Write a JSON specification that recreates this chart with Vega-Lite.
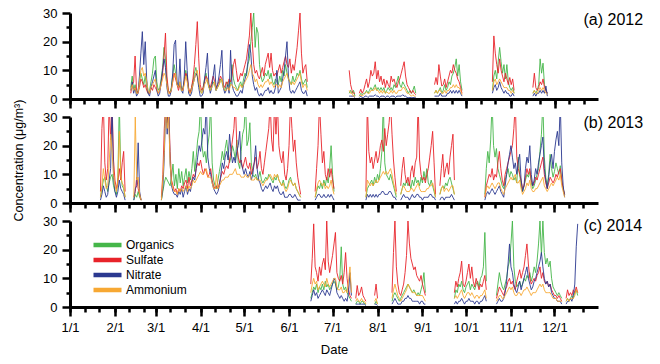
{
"$schema": "https://vega.github.io/schema/vega-lite/v6.json",
"padding": {"left": 12, "top": 7, "right": 4, "bottom": 2},
"spacing": 18,
"bounds": "flush",
"config": {"font": "Liberation Sans", "view": {"stroke": null},
 "axis": {"grid": false, "domainColor": "#000", "tickColor": "#000", "labelColor": "#000", "titleColor": "#000", "domainWidth": 3, "tickWidth": 2.5, "labelFontSize": 13, "titleFontWeight": "normal", "labelFont": "Liberation Sans", "titleFont": "Liberation Sans"},
 "legend": {"labelFont": "Liberation Sans"}},
"datasets": {
"y2012": [
{"t":"2012-02-12","o":4,"s":2,"n":3,"a":3},{"t":"2012-02-13","o":8,"s":5,"n":6,"a":5},{"t":"2012-02-14","o":3,"s":6,"n":2,"a":3},{"t":"2012-02-15","o":5,"s":15,"n":4,"a":4},{"t":"2012-02-16","o":2,"s":3,"n":1,"a":2},{"t":"2012-02-17","o":3,"s":2,"n":2,"a":2},{"t":"2012-02-18","o":6,"s":4,"n":8,"a":6},{"t":"2012-02-19","o":9,"s":7,"n":16,"a":10},{"t":"2012-02-20","o":7,"s":6,"n":23.5,"a":11},{"t":"2012-02-21","o":5,"s":4,"n":12,"a":8},{"t":"2012-02-22","o":8,"s":5,"n":20,"a":9},{"t":"2012-02-23","o":4,"s":3,"n":7,"a":6},{"t":"2012-02-24","o":2,"s":2,"n":2,"a":3},{"t":"2012-02-25","o":3,"s":2,"n":1,"a":2},{"t":"2012-02-26","o":6,"s":4,"n":4,"a":4},{"t":"2012-02-27","o":9,"s":3,"n":6,"a":5},{"t":"2012-02-28","o":14,"s":5,"n":8,"a":6},{"t":"2012-02-29","o":15,"s":4,"n":10,"a":7},
{"t":"2012-03-01","o":6,"s":3,"n":3,"a":4},{"t":"2012-03-02","o":3,"s":2,"n":1,"a":2},{"t":"2012-03-03","o":4,"s":3,"n":2,"a":3},{"t":"2012-03-04","o":7,"s":5,"n":6,"a":5},{"t":"2012-03-05","o":11,"s":9,"n":10,"a":7},{"t":"2012-03-06","o":18,"s":15,"n":14,"a":9},{"t":"2012-03-07","o":14,"s":23,"n":11,"a":8},{"t":"2012-03-08","o":6,"s":8,"n":4,"a":5},{"t":"2012-03-09","o":3,"s":3,"n":1,"a":2},{"t":"2012-03-10","o":2,"s":2,"n":1,"a":2},{"t":"2012-03-11","o":4,"s":3,"n":3,"a":3},{"t":"2012-03-12","o":8,"s":6,"n":9,"a":6},{"t":"2012-03-13","o":12,"s":9,"n":19,"a":8},{"t":"2012-03-14","o":9,"s":7,"n":20.5,"a":9},{"t":"2012-03-15","o":5,"s":5,"n":6,"a":5},{"t":"2012-03-16","o":4,"s":3,"n":4,"a":4},{"t":"2012-03-17","o":6,"s":5,"n":14,"a":6},{"t":"2012-03-18","o":3,"s":4,"n":3,"a":3},{"t":"2012-03-19","o":4,"s":3,"n":2,"a":3},{"t":"2012-03-20","o":6,"s":6,"n":8,"a":5},{"t":"2012-03-21","o":10,"s":9,"n":20,"a":8},{"t":"2012-03-22","o":7,"s":8,"n":10,"a":6},{"t":"2012-03-23","o":3,"s":4,"n":2,"a":3},{"t":"2012-03-24","o":2,"s":2,"n":1,"a":2},{"t":"2012-03-25","o":4,"s":4,"n":2,"a":3},{"t":"2012-03-26","o":6,"s":7,"n":5,"a":5},{"t":"2012-03-27","o":9,"s":12,"n":7,"a":7},{"t":"2012-03-28","o":11,"s":19,"n":9,"a":9},{"t":"2012-03-29","o":8,"s":27,"n":8,"a":10},{"t":"2012-03-30","o":5,"s":14,"n":4,"a":6},{"t":"2012-03-31","o":3,"s":5,"n":1,"a":3},
{"t":"2012-04-01","o":2,"s":3,"n":1,"a":2},{"t":"2012-04-02","o":4,"s":4,"n":2,"a":3},{"t":"2012-04-03","o":7,"s":6,"n":7,"a":5},{"t":"2012-04-04","o":9,"s":8,"n":11,"a":6},{"t":"2012-04-05","o":6,"s":7,"n":16,"a":7},{"t":"2012-04-06","o":4,"s":5,"n":5,"a":4},{"t":"2012-04-07","o":3,"s":4,"n":2,"a":3},{"t":"2012-04-08","o":5,"s":6,"n":4,"a":4},{"t":"2012-04-09","o":6,"s":8,"n":8,"a":5},{"t":"2012-04-10","o":5,"s":6,"n":12,"a":6},{"t":"2012-04-11","o":3,"s":4,"n":3,"a":3},{"t":"2012-04-12","o":4,"s":5,"n":5,"a":4},{"t":"2012-04-13","o":5,"s":6,"n":8,"a":5},{"t":"2012-04-14","o":7,"s":8,"n":12,"a":6},{"t":"2012-04-15","o":6,"s":7,"n":17,"a":7},{"t":"2012-04-16","o":4,"s":5,"n":4,"a":4},{"t":"2012-04-17","o":3,"s":4,"n":2,"a":3},{"t":"2012-04-18","o":5,"s":6,"n":3,"a":3},{"t":"2012-04-19","o":6,"s":5,"n":5,"a":4},{"t":"2012-04-20","o":4,"s":7,"n":2,"a":3},{"t":"2012-04-21","o":5,"s":6,"n":17,"a":5},{"t":"2012-04-22","o":12,"s":8,"n":5,"a":5},{"t":"2012-04-23","o":7,"s":12,"n":3,"a":4},{"t":"2012-04-24","o":5,"s":14,"n":2,"a":4},{"t":"2012-04-25","o":4,"s":10,"n":1,"a":3},{"t":"2012-04-26","o":3,"s":6,"n":1,"a":3},{"t":"2012-04-27","o":5,"s":7,"n":2,"a":4},{"t":"2012-04-28","o":6,"s":9,"n":3,"a":5},{"t":"2012-04-29","o":4,"s":8,"n":2,"a":4},{"t":"2012-04-30","o":7,"s":10,"n":5,"a":5},
{"t":"2012-05-01","o":9,"s":12,"n":7,"a":6},{"t":"2012-05-02","o":8,"s":14,"n":9,"a":7},{"t":"2012-05-03","o":12,"s":18,"n":13,"a":8},{"t":"2012-05-04","o":14,"s":22,"n":19,"a":10},{"t":"2012-05-05","o":20,"s":30,"n":16,"a":12},{"t":"2012-05-06","o":25,"s":20,"n":8,"a":9},{"t":"2012-05-07","o":30,"s":12,"n":5,"a":8},{"t":"2012-05-08","o":18,"s":9,"n":3,"a":6},{"t":"2012-05-09","o":25,"s":10,"n":4,"a":7},{"t":"2012-05-10","o":23,"s":8,"n":2,"a":5},{"t":"2012-05-11","o":12,"s":7,"n":1,"a":4},{"t":"2012-05-12","o":8,"s":9,"n":2,"a":5},{"t":"2012-05-13","o":6,"s":11,"n":1,"a":4},{"t":"2012-05-14","o":7,"s":8,"n":2,"a":5},{"t":"2012-05-15","o":9,"s":12,"n":3,"a":6},{"t":"2012-05-16","o":8,"s":14,"n":3,"a":6},{"t":"2012-05-17","o":10,"s":16,"n":4,"a":7},{"t":"2012-05-18","o":7,"s":11,"n":2,"a":5},{"t":"2012-05-19","o":9,"s":16,"n":3,"a":6},{"t":"2012-05-20","o":6,"s":10,"n":2,"a":5},{"t":"2012-05-21","o":5,"s":8,"n":2,"a":4},{"t":"2012-05-22","o":7,"s":9,"n":4,"a":5},{"t":"2012-05-23","o":6,"s":8,"n":10,"a":5},{"t":"2012-05-24","o":5,"s":10,"n":2,"a":4},{"t":"2012-05-25","o":8,"s":12,"n":3,"a":5},{"t":"2012-05-26","o":6,"s":9,"n":4,"a":4},{"t":"2012-05-27","o":10,"s":11,"n":7,"a":6},{"t":"2012-05-28","o":8,"s":13,"n":10,"a":7},{"t":"2012-05-29","o":12,"s":15,"n":15,"a":8},{"t":"2012-05-30","o":9,"s":12,"n":20,"a":9},{"t":"2012-05-31","o":7,"s":11,"n":8,"a":7},
{"t":"2012-06-01","o":6,"s":14,"n":3,"a":6},{"t":"2012-06-02","o":5,"s":9,"n":2,"a":5},{"t":"2012-06-03","o":8,"s":12,"n":3,"a":6},{"t":"2012-06-04","o":6,"s":10,"n":2,"a":5},{"t":"2012-06-05","o":7,"s":14,"n":3,"a":6},{"t":"2012-06-06","o":9,"s":18,"n":4,"a":7},{"t":"2012-06-07","o":8,"s":24,"n":5,"a":8},{"t":"2012-06-08","o":10,"s":30,"n":6,"a":9},{"t":"2012-06-09","o":7,"s":16,"n":3,"a":6},{"t":"2012-06-10","o":5,"s":9,"n":2,"a":4},{"t":"2012-06-11","o":6,"s":11,"n":2,"a":5},{"t":"2012-06-12","o":7,"s":12,"n":3,"a":5},{"t":"2012-06-13","o":4,"s":6,"n":1,"a":3},
{"t":"2012-06-14","o":null,"s":null,"n":null,"a":null},
{"t":"2012-07-12","o":2,"s":10,"n":1,"a":3},{"t":"2012-07-13","o":3,"s":5,"n":1,"a":2},{"t":"2012-07-14","o":2,"s":3,"n":1,"a":2},{"t":"2012-07-15","o":3,"s":2,"n":1,"a":1},{"t":"2012-07-16","o":1,"s":2,"n":0.5,"a":1},
{"t":"2012-07-17","o":null,"s":null,"n":null,"a":null},
{"t":"2012-07-19","o":1,"s":2,"n":0.5,"a":1},{"t":"2012-07-20","o":2,"s":3.4,"n":1,"a":1.5},{"t":"2012-07-21","o":1.5,"s":2,"n":0.5,"a":1},{"t":"2012-07-22","o":2,"s":3,"n":0.5,"a":1.5},{"t":"2012-07-23","o":2,"s":5,"n":1,"a":2},{"t":"2012-07-24","o":3,"s":7,"n":1,"a":2.5},{"t":"2012-07-25","o":2,"s":4,"n":0.5,"a":2},{"t":"2012-07-26","o":3,"s":6,"n":1,"a":2},{"t":"2012-07-27","o":4,"s":10,"n":1,"a":3},{"t":"2012-07-28","o":3,"s":8,"n":1,"a":3},{"t":"2012-07-29","o":4,"s":9,"n":1,"a":3},{"t":"2012-07-30","o":5,"s":13,"n":1.5,"a":4},{"t":"2012-07-31","o":3,"s":7,"n":1,"a":3},
{"t":"2012-08-01","o":4,"s":10,"n":1,"a":3},{"t":"2012-08-02","o":3,"s":6,"n":0.5,"a":2},{"t":"2012-08-03","o":4,"s":8,"n":1,"a":3},{"t":"2012-08-04","o":3,"s":5,"n":1,"a":2},{"t":"2012-08-05","o":4,"s":7,"n":1,"a":3},{"t":"2012-08-06","o":2,"s":4,"n":0.5,"a":2},{"t":"2012-08-07","o":3,"s":6.5,"n":1,"a":2.5},{"t":"2012-08-08","o":4,"s":5,"n":1,"a":2},{"t":"2012-08-09","o":3,"s":4,"n":0.5,"a":2},{"t":"2012-08-10","o":4,"s":8,"n":1,"a":3},{"t":"2012-08-11","o":3,"s":6,"n":1,"a":2},{"t":"2012-08-12","o":5,"s":7,"n":1,"a":3},{"t":"2012-08-13","o":4,"s":5,"n":0.5,"a":2},{"t":"2012-08-14","o":6,"s":4,"n":1,"a":2},{"t":"2012-08-15","o":8,"s":6,"n":1,"a":3},{"t":"2012-08-16","o":5,"s":7,"n":1,"a":3},{"t":"2012-08-17","o":4,"s":9,"n":1,"a":3},{"t":"2012-08-18","o":6,"s":11,"n":1.5,"a":4},{"t":"2012-08-19","o":5,"s":13,"n":1,"a":4},{"t":"2012-08-20","o":4,"s":8,"n":1,"a":3},{"t":"2012-08-21","o":3,"s":5,"n":0.5,"a":2},{"t":"2012-08-22","o":2,"s":4,"n":0.5,"a":2},{"t":"2012-08-23","o":3,"s":3,"n":0.5,"a":1.5},{"t":"2012-08-24","o":2,"s":2,"n":0.5,"a":1},{"t":"2012-08-25","o":3,"s":3,"n":0.5,"a":1.5},{"t":"2012-08-26","o":4.5,"s":2,"n":0.5,"a":1},{"t":"2012-08-27","o":2,"s":1.5,"n":0.5,"a":1},
{"t":"2012-08-29","o":null,"s":null,"n":null,"a":null},
{"t":"2012-09-09","o":2,"s":5,"n":1,"a":2},{"t":"2012-09-10","o":3,"s":7.5,"n":1,"a":3},{"t":"2012-09-11","o":2,"s":5,"n":1,"a":2},{"t":"2012-09-12","o":3,"s":12,"n":1,"a":3},{"t":"2012-09-13","o":4,"s":8,"n":2,"a":3},{"t":"2012-09-14","o":2,"s":4.5,"n":1,"a":2},{"t":"2012-09-15","o":3,"s":5,"n":1,"a":2},{"t":"2012-09-16","o":5,"s":7,"n":1,"a":3},{"t":"2012-09-17","o":3,"s":4,"n":1,"a":2},{"t":"2012-09-18","o":4,"s":6,"n":2,"a":3},{"t":"2012-09-19","o":6,"s":8,"n":2,"a":3},{"t":"2012-09-20","o":5,"s":10,"n":3,"a":4},{"t":"2012-09-21","o":8,"s":9,"n":2,"a":4},{"t":"2012-09-22","o":9,"s":12,"n":3,"a":5},{"t":"2012-09-23","o":11,"s":10,"n":2,"a":4},{"t":"2012-09-24","o":14,"s":9,"n":3,"a":5},{"t":"2012-09-25","o":8,"s":7,"n":2,"a":4},{"t":"2012-09-26","o":12,"s":6,"n":3,"a":4},{"t":"2012-09-27","o":6,"s":4,"n":2,"a":3},{"t":"2012-09-28","o":3,"s":2,"n":1,"a":1.5},
{"t":"2012-09-30","o":null,"s":null,"n":null,"a":null},
{"t":"2012-10-19","o":3,"s":6,"n":2,"a":3},{"t":"2012-10-20","o":8,"s":22,"n":4,"a":6},{"t":"2012-10-21","o":10,"s":16,"n":5,"a":7},{"t":"2012-10-22","o":7,"s":12,"n":3,"a":5},{"t":"2012-10-23","o":13,"s":9,"n":4,"a":6},{"t":"2012-10-24","o":18,"s":14,"n":6,"a":7},{"t":"2012-10-25","o":13,"s":10,"n":4,"a":6},{"t":"2012-10-26","o":9,"s":8,"n":3,"a":5},{"t":"2012-10-27","o":12,"s":6,"n":2,"a":4},{"t":"2012-10-28","o":7,"s":9,"n":3,"a":4},{"t":"2012-10-29","o":12,"s":7,"n":2,"a":4},{"t":"2012-10-30","o":6,"s":5,"n":2,"a":3},{"t":"2012-10-31","o":4,"s":7.5,"n":1,"a":3},{"t":"2012-11-01","o":3,"s":5,"n":1,"a":2},{"t":"2012-11-02","o":4,"s":7,"n":2,"a":3},{"t":"2012-11-03","o":2,"s":3,"n":1,"a":2},
{"t":"2012-11-05","o":null,"s":null,"n":null,"a":null},
{"t":"2012-11-16","o":2,"s":4,"n":1,"a":2},{"t":"2012-11-17","o":3,"s":9,"n":2,"a":3},{"t":"2012-11-18","o":2,"s":4,"n":1,"a":2},{"t":"2012-11-19","o":3,"s":3,"n":2,"a":2},{"t":"2012-11-20","o":5,"s":4,"n":2,"a":3},{"t":"2012-11-21","o":14,"s":6,"n":3,"a":4},{"t":"2012-11-22","o":9,"s":5,"n":2,"a":3},{"t":"2012-11-23","o":12.5,"s":7,"n":3,"a":4},{"t":"2012-11-24","o":5,"s":4,"n":2,"a":3},{"t":"2012-11-25","o":3,"s":3,"n":4.5,"a":2},{"t":"2012-11-26","o":2,"s":2,"n":1,"a":1.5}
],
"y2013": [
{"t":"2013-01-22","o":2,"s":4,"n":1,"a":2},{"t":"2013-01-23","o":5,"s":26,"n":3,"a":6},{"t":"2013-01-24","o":8,"s":35,"n":6,"a":12},{"t":"2013-01-25","o":9,"s":14,"n":4,"a":8},{"t":"2013-01-26","o":6,"s":8,"n":2,"a":5},{"t":"2013-01-27","o":4,"s":12,"n":3,"a":6},{"t":"2013-01-28","o":7,"s":35,"n":8,"a":14},{"t":"2013-01-29","o":9,"s":22,"n":12,"a":24},{"t":"2013-01-30","o":10,"s":35,"n":35,"a":18},{"t":"2013-01-31","o":6,"s":15,"n":9,"a":10},{"t":"2013-02-01","o":4,"s":8,"n":4,"a":6},{"t":"2013-02-02","o":3,"s":5,"n":2,"a":4},{"t":"2013-02-03","o":9,"s":7,"n":4,"a":8},{"t":"2013-02-04","o":35,"s":12,"n":8,"a":25},{"t":"2013-02-05","o":10,"s":8,"n":5,"a":9},{"t":"2013-02-06","o":6,"s":14,"n":4,"a":7},{"t":"2013-02-07","o":5,"s":18,"n":3,"a":6},{"t":"2013-02-08","o":2,"s":4,"n":1,"a":2},
{"t":"2013-02-10","o":null,"s":null,"n":null,"a":null},
{"t":"2013-02-14","o":1,"s":2,"n":1,"a":2},{"t":"2013-02-15","o":3,"s":4,"n":5,"a":30},{"t":"2013-02-16","o":2,"s":9,"n":6,"a":8},{"t":"2013-02-17","o":4,"s":5,"n":21,"a":9},{"t":"2013-02-18","o":2,"s":3,"n":4,"a":3},{"t":"2013-02-19","o":1,"s":1,"n":1,"a":1},
{"t":"2013-02-21","o":null,"s":null,"n":null,"a":null},
{"t":"2013-03-05","o":1,"s":2,"n":1,"a":1},{"t":"2013-03-06","o":4,"s":10,"n":5,"a":8},{"t":"2013-03-07","o":7,"s":26,"n":16,"a":18},{"t":"2013-03-08","o":9,"s":35,"n":35,"a":35},{"t":"2013-03-09","o":8,"s":28,"n":24,"a":26},{"t":"2013-03-10","o":7,"s":35,"n":35,"a":30},{"t":"2013-03-11","o":6,"s":18,"n":14,"a":14},{"t":"2013-03-12","o":9,"s":8,"n":6,"a":7},{"t":"2013-03-13","o":13.6,"s":6,"n":4,"a":5},{"t":"2013-03-14","o":6,"s":4,"n":3,"a":4},{"t":"2013-03-15","o":10,"s":5,"n":3,"a":4},{"t":"2013-03-16","o":5,"s":3,"n":2,"a":3},{"t":"2013-03-17","o":12,"s":5,"n":4,"a":5},{"t":"2013-03-18","o":7,"s":4,"n":3,"a":4},{"t":"2013-03-19","o":11,"s":6,"n":5,"a":5},{"t":"2013-03-20","o":6,"s":5,"n":2,"a":4},{"t":"2013-03-21","o":9,"s":7,"n":4,"a":5},{"t":"2013-03-22","o":12,"s":8,"n":6,"a":6},{"t":"2013-03-23","o":7,"s":5,"n":3,"a":4},{"t":"2013-03-24","o":11,"s":9,"n":5,"a":6},{"t":"2013-03-25","o":8,"s":6,"n":4,"a":5},{"t":"2013-03-26","o":12,"s":8,"n":7,"a":6},{"t":"2013-03-27","o":18,"s":10,"n":9,"a":8},{"t":"2013-03-28","o":11,"s":9,"n":8,"a":7},{"t":"2013-03-29","o":16,"s":12,"n":12,"a":8},{"t":"2013-03-30","o":22,"s":14,"n":16,"a":9},{"t":"2013-03-31","o":25,"s":13,"n":20,"a":10},
{"t":"2013-04-01","o":35,"s":15,"n":18,"a":11},{"t":"2013-04-02","o":20,"s":12,"n":22,"a":10},{"t":"2013-04-03","o":16,"s":10,"n":26,"a":10},{"t":"2013-04-04","o":18,"s":12,"n":24,"a":11},{"t":"2013-04-05","o":14,"s":11,"n":35,"a":12},{"t":"2013-04-06","o":20,"s":9,"n":16,"a":9},{"t":"2013-04-07","o":24,"s":10,"n":12,"a":9},{"t":"2013-04-08","o":35,"s":12,"n":10,"a":9},{"t":"2013-04-09","o":14,"s":8,"n":7,"a":7},{"t":"2013-04-10","o":8,"s":6,"n":5,"a":5},{"t":"2013-04-11","o":6,"s":5,"n":4,"a":5},{"t":"2013-04-12","o":5,"s":6,"n":3,"a":10},{"t":"2013-04-13","o":8,"s":5,"n":4,"a":5},{"t":"2013-04-14","o":11,"s":7,"n":6,"a":6},{"t":"2013-04-15","o":14,"s":9,"n":10,"a":7},{"t":"2013-04-16","o":18,"s":11,"n":14,"a":8},{"t":"2013-04-17","o":15,"s":10,"n":12,"a":8},{"t":"2013-04-18","o":19,"s":12,"n":16,"a":9},{"t":"2013-04-19","o":22,"s":13,"n":18,"a":9},{"t":"2013-04-20","o":17,"s":12,"n":15,"a":9},{"t":"2013-04-21","o":14,"s":15,"n":24,"a":10},{"t":"2013-04-22","o":16,"s":18,"n":18,"a":10},{"t":"2013-04-23","o":20,"s":22,"n":14,"a":10},{"t":"2013-04-24","o":18,"s":26,"n":16,"a":11},{"t":"2013-04-25","o":15,"s":35,"n":14,"a":12},{"t":"2013-04-26","o":22,"s":20,"n":18,"a":10},{"t":"2013-04-27","o":14,"s":16,"n":20,"a":10},{"t":"2013-04-28","o":12,"s":14,"n":25,"a":10},{"t":"2013-04-29","o":18,"s":15,"n":14,"a":9},{"t":"2013-04-30","o":24,"s":12,"n":12,"a":9},
{"t":"2013-05-01","o":26,"s":14,"n":10,"a":9},{"t":"2013-05-02","o":35,"s":16,"n":12,"a":10},{"t":"2013-05-03","o":20,"s":13,"n":10,"a":9},{"t":"2013-05-04","o":22,"s":12,"n":9,"a":9},{"t":"2013-05-05","o":28,"s":14,"n":11,"a":10},{"t":"2013-05-06","o":14,"s":10,"n":8,"a":8},{"t":"2013-05-07","o":10,"s":12,"n":10,"a":8},{"t":"2013-05-08","o":9,"s":14,"n":14,"a":8},{"t":"2013-05-09","o":10,"s":16,"n":20,"a":9},{"t":"2013-05-10","o":8,"s":12,"n":12,"a":8},{"t":"2013-05-11","o":9,"s":14,"n":8,"a":8},{"t":"2013-05-12","o":11,"s":18,"n":7,"a":8},{"t":"2013-05-13","o":8,"s":12,"n":5,"a":7},{"t":"2013-05-14","o":7,"s":10,"n":4,"a":6},{"t":"2013-05-15","o":8,"s":14,"n":5,"a":7},{"t":"2013-05-16","o":9,"s":18,"n":6,"a":8},{"t":"2013-05-17","o":8,"s":22,"n":5,"a":8},{"t":"2013-05-18","o":10,"s":26,"n":6,"a":9},{"t":"2013-05-19","o":9,"s":35,"n":7,"a":10},{"t":"2013-05-20","o":8,"s":22,"n":5,"a":9},{"t":"2013-05-21","o":7,"s":18,"n":4,"a":8},{"t":"2013-05-22","o":9,"s":35,"n":6,"a":10},{"t":"2013-05-23","o":8,"s":24,"n":5,"a":9},{"t":"2013-05-24","o":10,"s":35,"n":6,"a":10},{"t":"2013-05-25","o":8,"s":20,"n":4,"a":8},{"t":"2013-05-26","o":7,"s":16,"n":3,"a":7},{"t":"2013-05-27","o":6,"s":14,"n":3,"a":6},{"t":"2013-05-28","o":8,"s":18,"n":4,"a":7},{"t":"2013-05-29","o":6,"s":10,"n":2,"a":5},{"t":"2013-05-30","o":5,"s":8,"n":2,"a":4},{"t":"2013-05-31","o":6,"s":12,"n":2,"a":5},
{"t":"2013-06-01","o":8,"s":20,"n":3,"a":7},{"t":"2013-06-02","o":9,"s":35,"n":3,"a":8},{"t":"2013-06-03","o":7,"s":26,"n":2,"a":7},{"t":"2013-06-04","o":6,"s":18,"n":2,"a":6},{"t":"2013-06-05","o":7,"s":22,"n":3,"a":7},{"t":"2013-06-06","o":5,"s":14,"n":2,"a":5},{"t":"2013-06-07","o":4,"s":9,"n":1,"a":4},{"t":"2013-06-08","o":3,"s":6,"n":1,"a":3},{"t":"2013-06-09","o":2,"s":3,"n":1,"a":2},
{"t":"2013-06-10","o":null,"s":null,"n":null,"a":null},
{"t":"2013-06-19","o":2,"s":4,"n":1,"a":2},{"t":"2013-06-20","o":4,"s":12,"n":2,"a":5},{"t":"2013-06-21","o":6,"s":20,"n":3,"a":7},{"t":"2013-06-22","o":5,"s":35,"n":3,"a":8},{"t":"2013-06-23","o":7,"s":24,"n":2,"a":7},{"t":"2013-06-24","o":5,"s":14,"n":2,"a":6},{"t":"2013-06-25","o":8,"s":18,"n":3,"a":7},{"t":"2013-06-26","o":6,"s":10,"n":2,"a":5},{"t":"2013-06-27","o":9,"s":8,"n":2,"a":6},{"t":"2013-06-28","o":7,"s":12,"n":3,"a":5},{"t":"2013-06-29","o":12,"s":9,"n":2,"a":6},{"t":"2013-06-30","o":20,"s":12,"n":3,"a":8},{"t":"2013-07-01","o":10,"s":8,"n":2,"a":5},{"t":"2013-07-02","o":4,"s":5,"n":1,"a":3},
{"t":"2013-07-04","o":null,"s":null,"n":null,"a":null},
{"t":"2013-07-24","o":2,"s":4,"n":1,"a":2},{"t":"2013-07-25","o":5,"s":35,"n":3,"a":8},{"t":"2013-07-26","o":6,"s":18,"n":2,"a":7},{"t":"2013-07-27","o":7,"s":14,"n":3,"a":6},{"t":"2013-07-28","o":8,"s":16,"n":2,"a":7},{"t":"2013-07-29","o":6,"s":12,"n":3,"a":6},{"t":"2013-07-30","o":9,"s":15,"n":2,"a":7},{"t":"2013-07-31","o":7,"s":18,"n":3,"a":8},{"t":"2013-08-01","o":10,"s":14,"n":2,"a":7},{"t":"2013-08-02","o":8,"s":16,"n":3,"a":8},{"t":"2013-08-03","o":12,"s":20,"n":3,"a":9},{"t":"2013-08-04","o":18,"s":22,"n":4,"a":10},{"t":"2013-08-05","o":35,"s":18,"n":4,"a":11},{"t":"2013-08-06","o":14,"s":26,"n":3,"a":10},{"t":"2013-08-07","o":10,"s":20,"n":3,"a":11},{"t":"2013-08-08","o":9,"s":24,"n":3,"a":10},{"t":"2013-08-09","o":8,"s":28,"n":4,"a":11},{"t":"2013-08-10","o":10,"s":35,"n":4,"a":12},{"t":"2013-08-11","o":8,"s":24,"n":3,"a":10},{"t":"2013-08-12","o":6,"s":15,"n":2,"a":7},{"t":"2013-08-13","o":4,"s":9,"n":2,"a":5},{"t":"2013-08-14","o":2,"s":4,"n":1,"a":3},
{"t":"2013-08-15","o":null,"s":null,"n":null,"a":null},
{"t":"2013-08-17","o":3,"s":6,"n":1,"a":3},{"t":"2013-08-18","o":5,"s":12,"n":2,"a":5},{"t":"2013-08-19","o":7,"s":16,"n":3,"a":6},{"t":"2013-08-20","o":6,"s":10,"n":2,"a":5},{"t":"2013-08-21","o":8,"s":7,"n":2,"a":4},{"t":"2013-08-22","o":6,"s":9,"n":2,"a":4},{"t":"2013-08-23","o":7,"s":6,"n":1,"a":4},{"t":"2013-08-24","o":5,"s":11,"n":2,"a":5},{"t":"2013-08-25","o":8,"s":13,"n":3,"a":5},{"t":"2013-08-26","o":6,"s":9,"n":2,"a":4},{"t":"2013-08-27","o":9,"s":14,"n":2,"a":5},{"t":"2013-08-28","o":7,"s":16,"n":3,"a":6},{"t":"2013-08-29","o":8,"s":35,"n":3,"a":7},{"t":"2013-08-30","o":6,"s":15,"n":2,"a":5},{"t":"2013-08-31","o":9,"s":10,"n":2,"a":4},{"t":"2013-09-01","o":7,"s":8,"n":1,"a":4},{"t":"2013-09-02","o":11,"s":9,"n":2,"a":4},{"t":"2013-09-03","o":8,"s":7,"n":2,"a":4},{"t":"2013-09-04","o":12,"s":10,"n":2,"a":5},{"t":"2013-09-05","o":7,"s":12,"n":2,"a":5},{"t":"2013-09-06","o":6,"s":16,"n":3,"a":6},{"t":"2013-09-07","o":8,"s":20,"n":3,"a":6},{"t":"2013-09-08","o":6,"s":25,"n":2,"a":7},{"t":"2013-09-09","o":4,"s":14,"n":2,"a":5},{"t":"2013-09-10","o":2,"s":3,"n":1,"a":2},
{"t":"2013-09-11","o":null,"s":null,"n":null,"a":null},
{"t":"2013-09-13","o":3,"s":6,"n":1,"a":3},{"t":"2013-09-14","o":5,"s":12,"n":2,"a":5},{"t":"2013-09-15","o":6,"s":17,"n":2,"a":6},{"t":"2013-09-16","o":5,"s":9,"n":1,"a":4},{"t":"2013-09-17","o":7,"s":12,"n":2,"a":5},{"t":"2013-09-18","o":6,"s":14,"n":2,"a":5},{"t":"2013-09-19","o":8,"s":10,"n":2,"a":4},{"t":"2013-09-20","o":9,"s":16,"n":2,"a":5},{"t":"2013-09-21","o":7,"s":20,"n":3,"a":6},{"t":"2013-09-22","o":5,"s":24,"n":2,"a":6},{"t":"2013-09-23","o":3,"s":8,"n":1,"a":3},
{"t":"2013-09-24","o":null,"s":null,"n":null,"a":null},
{"t":"2013-10-14","o":3,"s":2,"n":1,"a":2},{"t":"2013-10-15","o":12,"s":6,"n":3,"a":5},{"t":"2013-10-16","o":18,"s":8,"n":4,"a":6},{"t":"2013-10-17","o":14,"s":10,"n":3,"a":5},{"t":"2013-10-18","o":22,"s":9,"n":4,"a":6},{"t":"2013-10-19","o":35,"s":12,"n":5,"a":7},{"t":"2013-10-20","o":20,"s":8,"n":4,"a":6},{"t":"2013-10-21","o":16,"s":10,"n":3,"a":5},{"t":"2013-10-22","o":19,"s":9,"n":4,"a":6},{"t":"2013-10-23","o":12,"s":14,"n":5,"a":7},{"t":"2013-10-24","o":10,"s":18,"n":6,"a":7},{"t":"2013-10-25","o":8,"s":12,"n":4,"a":5},{"t":"2013-10-26","o":6,"s":8,"n":3,"a":4},{"t":"2013-10-27","o":5,"s":6,"n":2,"a":3},{"t":"2013-10-28","o":8,"s":10,"n":6,"a":5},{"t":"2013-10-29","o":10,"s":12,"n":10,"a":6},{"t":"2013-10-30","o":12,"s":14,"n":14,"a":7},{"t":"2013-10-31","o":9,"s":16,"n":17,"a":8},
{"t":"2013-11-01","o":11,"s":18,"n":20,"a":9},{"t":"2013-11-02","o":10,"s":20,"n":16,"a":8},{"t":"2013-11-03","o":8,"s":26,"n":12,"a":9},{"t":"2013-11-04","o":9,"s":35,"n":14,"a":10},{"t":"2013-11-05","o":7,"s":16,"n":10,"a":7},{"t":"2013-11-06","o":16,"s":12,"n":14,"a":7},{"t":"2013-11-07","o":10,"s":10,"n":17,"a":8},{"t":"2013-11-08","o":6,"s":8,"n":8,"a":5},{"t":"2013-11-09","o":4,"s":5,"n":4,"a":3},{"t":"2013-11-10","o":6,"s":6,"n":6,"a":4},{"t":"2013-11-11","o":8,"s":9,"n":12,"a":5},{"t":"2013-11-12","o":10,"s":12,"n":16,"a":7},{"t":"2013-11-13","o":9,"s":10,"n":14,"a":6},{"t":"2013-11-14","o":11,"s":12,"n":20,"a":8},{"t":"2013-11-15","o":7,"s":8,"n":10,"a":5},{"t":"2013-11-16","o":5,"s":6,"n":6,"a":4},{"t":"2013-11-17","o":6,"s":7,"n":8,"a":4},{"t":"2013-11-18","o":8,"s":9,"n":12,"a":5},{"t":"2013-11-19","o":10,"s":8,"n":10,"a":5},{"t":"2013-11-20","o":12,"s":10,"n":14,"a":6},{"t":"2013-11-21","o":18,"s":12,"n":17,"a":7},{"t":"2013-11-22","o":24,"s":14,"n":20,"a":8},{"t":"2013-11-23","o":35,"s":16,"n":23,"a":9},{"t":"2013-11-24","o":16,"s":10,"n":12,"a":6},{"t":"2013-11-25","o":9,"s":7,"n":8,"a":5},{"t":"2013-11-26","o":6,"s":5,"n":5,"a":4},{"t":"2013-11-27","o":10,"s":7,"n":9,"a":5},{"t":"2013-11-28","o":17,"s":9,"n":14,"a":6},{"t":"2013-11-29","o":12,"s":8,"n":17,"a":7},{"t":"2013-11-30","o":9,"s":7,"n":12,"a":6},
{"t":"2013-12-01","o":11,"s":8,"n":18,"a":7},{"t":"2013-12-02","o":14,"s":10,"n":22,"a":8},{"t":"2013-12-03","o":12,"s":9,"n":25,"a":9},{"t":"2013-12-04","o":10,"s":11,"n":20,"a":8},{"t":"2013-12-05","o":13,"s":12,"n":35,"a":10},{"t":"2013-12-06","o":8,"s":8,"n":14,"a":6},{"t":"2013-12-07","o":5,"s":5,"n":6,"a":4},{"t":"2013-12-08","o":3,"s":3,"n":2,"a":2}
],
"y2014": [
{"t":"2014-06-16","o":3,"s":8,"n":2,"a":5},{"t":"2014-06-17","o":5,"s":17,"n":4,"a":8},{"t":"2014-06-18","o":7,"s":29,"n":6,"a":10},{"t":"2014-06-19","o":6,"s":14,"n":4,"a":8},{"t":"2014-06-20","o":8,"s":12,"n":5,"a":9},{"t":"2014-06-21","o":5,"s":9,"n":3,"a":6},{"t":"2014-06-22","o":7,"s":14,"n":4,"a":7},{"t":"2014-06-23","o":6,"s":11,"n":5,"a":8},{"t":"2014-06-24","o":8,"s":15,"n":6,"a":9},{"t":"2014-06-25","o":6,"s":17,"n":5,"a":8},{"t":"2014-06-26","o":9,"s":13,"n":4,"a":7},{"t":"2014-06-27","o":7,"s":30,"n":6,"a":10},{"t":"2014-06-28","o":8,"s":16,"n":5,"a":8},{"t":"2014-06-29","o":6,"s":12,"n":4,"a":7},{"t":"2014-06-30","o":7,"s":15,"n":6,"a":8},{"t":"2014-07-01","o":8,"s":18,"n":8,"a":9},{"t":"2014-07-02","o":9,"s":22,"n":10,"a":10},{"t":"2014-07-03","o":8,"s":26,"n":9,"a":10},{"t":"2014-07-04","o":6,"s":12,"n":5,"a":7},{"t":"2014-07-05","o":7,"s":10,"n":4,"a":6},{"t":"2014-07-06","o":10,"s":9,"n":3,"a":6},{"t":"2014-07-07","o":21,"s":11,"n":4,"a":7},{"t":"2014-07-08","o":8,"s":8,"n":3,"a":5},{"t":"2014-07-09","o":6,"s":12,"n":2,"a":5},{"t":"2014-07-10","o":7,"s":19,"n":3,"a":6},{"t":"2014-07-11","o":5,"s":10,"n":2,"a":5},{"t":"2014-07-12","o":4,"s":6,"n":5,"a":9},{"t":"2014-07-13","o":3,"s":4,"n":12,"a":14},{"t":"2014-07-14","o":2,"s":3,"n":4,"a":5},
{"t":"2014-07-15","o":null,"s":null,"n":null,"a":null},
{"t":"2014-07-17","o":1,"s":3,"n":1,"a":2},{"t":"2014-07-18","o":2,"s":7.5,"n":1,"a":3},{"t":"2014-07-19","o":2,"s":4,"n":1,"a":2},{"t":"2014-07-20","o":1,"s":5,"n":1,"a":2},{"t":"2014-07-21","o":2,"s":7,"n":1,"a":3},{"t":"2014-07-22","o":2,"s":4,"n":1,"a":2},{"t":"2014-07-23","o":1,"s":3,"n":1,"a":2},{"t":"2014-07-24","o":1,"s":2,"n":0.5,"a":1},
{"t":"2014-07-25","o":null,"s":null,"n":null,"a":null},
{"t":"2014-07-30","o":1,"s":4,"n":1,"a":2},{"t":"2014-07-31","o":2,"s":8,"n":1,"a":3},{"t":"2014-08-01","o":1,"s":3,"n":0.5,"a":1},
{"t":"2014-08-02","o":null,"s":null,"n":null,"a":null},
{"t":"2014-08-11","o":2,"s":5,"n":1,"a":3},{"t":"2014-08-12","o":4,"s":19,"n":2,"a":6},{"t":"2014-08-13","o":5,"s":30,"n":3,"a":8},{"t":"2014-08-14","o":4,"s":14,"n":2,"a":6},{"t":"2014-08-15","o":3,"s":8,"n":1,"a":4},{"t":"2014-08-16","o":2,"s":5,"n":1,"a":3},{"t":"2014-08-17","o":3,"s":4,"n":1,"a":2},{"t":"2014-08-18","o":4,"s":6,"n":2,"a":3},{"t":"2014-08-19","o":5,"s":8,"n":2,"a":4},{"t":"2014-08-20","o":6,"s":12,"n":3,"a":5},{"t":"2014-08-21","o":7,"s":18,"n":3,"a":6},{"t":"2014-08-22","o":8,"s":30,"n":4,"a":8},{"t":"2014-08-23","o":7,"s":22,"n":3,"a":7},{"t":"2014-08-24","o":6,"s":17,"n":3,"a":6},{"t":"2014-08-25","o":5,"s":15,"n":2,"a":5},{"t":"2014-08-26","o":6,"s":13,"n":2,"a":5},{"t":"2014-08-27","o":5,"s":14,"n":2,"a":5},{"t":"2014-08-28","o":4,"s":11,"n":2,"a":4},{"t":"2014-08-29","o":5,"s":10,"n":2,"a":4},{"t":"2014-08-30","o":4,"s":9,"n":1,"a":4},{"t":"2014-08-31","o":6,"s":11,"n":2,"a":4},{"t":"2014-09-01","o":8,"s":8,"n":2,"a":4},{"t":"2014-09-02","o":12,"s":6,"n":1,"a":3},{"t":"2014-09-03","o":5,"s":4,"n":1,"a":2},
{"t":"2014-09-04","o":null,"s":null,"n":null,"a":null},
{"t":"2014-09-23","o":3,"s":5,"n":1,"a":3},{"t":"2014-09-24","o":6,"s":9,"n":2,"a":4},{"t":"2014-09-25","o":5,"s":7,"n":1,"a":3},{"t":"2014-09-26","o":8,"s":10,"n":2,"a":4},{"t":"2014-09-27","o":7,"s":12,"n":2,"a":5},{"t":"2014-09-28","o":9,"s":16,"n":3,"a":6},{"t":"2014-09-29","o":6,"s":8,"n":2,"a":4},{"t":"2014-09-30","o":5,"s":7,"n":1,"a":3},{"t":"2014-10-01","o":7,"s":9,"n":2,"a":4},{"t":"2014-10-02","o":8,"s":12,"n":2,"a":5},{"t":"2014-10-03","o":9,"s":15,"n":3,"a":5},{"t":"2014-10-04","o":6,"s":10,"n":2,"a":4},{"t":"2014-10-05","o":8,"s":14,"n":2,"a":5},{"t":"2014-10-06","o":7,"s":9,"n":2,"a":4},{"t":"2014-10-07","o":6,"s":7,"n":1,"a":3},{"t":"2014-10-08","o":8,"s":10,"n":2,"a":4},{"t":"2014-10-09","o":9,"s":8,"n":2,"a":4},{"t":"2014-10-10","o":7,"s":6,"n":1,"a":3},{"t":"2014-10-11","o":10,"s":8,"n":2,"a":4},{"t":"2014-10-12","o":11,"s":7,"n":2,"a":4},{"t":"2014-10-13","o":14,"s":9,"n":3,"a":5},{"t":"2014-10-14","o":26,"s":11,"n":4,"a":6},{"t":"2014-10-15","o":9,"s":6,"n":2,"a":3},
{"t":"2014-10-16","o":null,"s":null,"n":null,"a":null},
{"t":"2014-10-22","o":4,"s":3,"n":1,"a":2},{"t":"2014-10-23","o":8,"s":5,"n":2,"a":3},{"t":"2014-10-24","o":12,"s":7,"n":3,"a":4},{"t":"2014-10-25","o":9,"s":6,"n":2,"a":4},{"t":"2014-10-26","o":7,"s":5,"n":2,"a":3},{"t":"2014-10-27","o":6,"s":4,"n":3,"a":3},{"t":"2014-10-28","o":8,"s":6,"n":5,"a":4},{"t":"2014-10-29","o":10,"s":7,"n":9,"a":5},{"t":"2014-10-30","o":14,"s":9,"n":15,"a":6},{"t":"2014-10-31","o":16,"s":10,"n":22,"a":7},{"t":"2014-11-01","o":22,"s":8,"n":14,"a":6},{"t":"2014-11-02","o":30,"s":9,"n":12,"a":7},{"t":"2014-11-03","o":14,"s":7,"n":8,"a":5},{"t":"2014-11-04","o":9,"s":6,"n":6,"a":4},{"t":"2014-11-05","o":7,"s":9,"n":5,"a":4},{"t":"2014-11-06","o":8,"s":11,"n":7,"a":5},{"t":"2014-11-07","o":9,"s":13,"n":9,"a":5},{"t":"2014-11-08","o":7,"s":10,"n":6,"a":4},{"t":"2014-11-09","o":8,"s":12,"n":8,"a":5},{"t":"2014-11-10","o":10,"s":14,"n":10,"a":6},{"t":"2014-11-11","o":9,"s":18,"n":12,"a":6},{"t":"2014-11-12","o":11,"s":22,"n":14,"a":7},{"t":"2014-11-13","o":10,"s":15,"n":10,"a":6},{"t":"2014-11-14","o":12,"s":10,"n":8,"a":5},{"t":"2014-11-15","o":9,"s":8,"n":6,"a":4},{"t":"2014-11-16","o":11,"s":9,"n":7,"a":5},{"t":"2014-11-17","o":14,"s":10,"n":9,"a":5},{"t":"2014-11-18","o":12,"s":9,"n":10,"a":5},{"t":"2014-11-19","o":16,"s":11,"n":12,"a":6},{"t":"2014-11-20","o":22,"s":12,"n":14,"a":7},{"t":"2014-11-21","o":30,"s":14,"n":16,"a":8},{"t":"2014-11-22","o":18,"s":10,"n":19,"a":7},{"t":"2014-11-23","o":30,"s":12,"n":14,"a":8},{"t":"2014-11-24","o":19,"s":9,"n":10,"a":6},{"t":"2014-11-25","o":15,"s":8,"n":8,"a":5},{"t":"2014-11-26","o":17,"s":9,"n":9,"a":5},{"t":"2014-11-27","o":14,"s":7,"n":7,"a":5},{"t":"2014-11-28","o":16,"s":8,"n":8,"a":5},{"t":"2014-11-29","o":10,"s":6,"n":5,"a":4},{"t":"2014-11-30","o":7,"s":5,"n":4,"a":3},{"t":"2014-12-01","o":6,"s":4,"n":3,"a":3},{"t":"2014-12-02","o":5,"s":4,"n":3,"a":3},{"t":"2014-12-03","o":4,"s":3,"n":2,"a":2},{"t":"2014-12-04","o":5,"s":4,"n":2,"a":2},{"t":"2014-12-05","o":4,"s":3,"n":2,"a":2},{"t":"2014-12-06","o":3,"s":2,"n":1,"a":2},
{"t":"2014-12-07","o":null,"s":null,"n":null,"a":null},
{"t":"2014-12-09","o":2,"s":3,"n":1,"a":2},{"t":"2014-12-10","o":3,"s":6,"n":2,"a":3},{"t":"2014-12-11","o":2,"s":4,"n":2,"a":2},{"t":"2014-12-12","o":3,"s":5,"n":3,"a":3},{"t":"2014-12-13","o":4,"s":4,"n":2,"a":3},{"t":"2014-12-14","o":3,"s":6,"n":4,"a":3},{"t":"2014-12-15","o":5,"s":5,"n":8,"a":4},{"t":"2014-12-16","o":6,"s":7,"n":21,"a":6},{"t":"2014-12-17","o":4,"s":5,"n":29,"a":5}
]
},
"resolve": {"scale": {"color": "independent"}, "legend": {"color": "independent"}},
"vconcat": [
{"width": 528, "height": 86, "resolve": {"axis": {"x": "independent", "y": "independent"}}, "layer": [
 {"data": {"name": "y2012"}, "transform": [{"fold": ["o","s","n","a"], "as": ["k","v"]}],
  "mark": {"type": "line", "strokeWidth": 1, "clip": true, "opacity": 0.9, "strokeJoin": "bevel"},
  "encoding": {
   "x": {"field": "t", "type": "temporal", "scale": {"type": "utc", "domain": [{"year":2012,"month":1,"date":1,"utc":true},{"year":2012,"month":12,"date":31,"utc":true}]},
    "axis": {"orient": "bottom", "labels": false, "title": null, "tickCount": {"interval": "month", "step": 1}, "tickSize": 9}},
   "y": {"field": "v", "type": "quantitative", "scale": {"domain": [0,30], "nice": false},
    "axis": {"orient": "left", "values": [0,10,20,30], "tickSize": 8, "labelPadding": 5, "title": null}},
   "color": {"field": "k", "type": "nominal", "scale": {"domain": ["o","s","n","a"], "range": ["#45b649","#e8232a","#2b3990","#f7a833"]}, "legend": null}
  }},
 {"data": {"values": [{"label": "(a) 2012"}]}, "mark": {"type": "text", "align": "left", "baseline": "middle", "fontSize": 16, "color": "#000"},
  "encoding": {"x": {"datum": {"year":2012,"month":12,"date":21,"utc":true}, "type": "temporal", "axis": {"orient": "bottom", "labels": false, "title": null, "domain": false, "tickCount": {"interval": "day", "step": 10}, "tickSize": 5, "tickOpacity": {"condition": {"test": "utcdate(datum.value)==31", "value": 0}, "value": 1}}},
   "y": {"datum": 27.4, "type": "quantitative", "axis": {"orient": "left", "values": [5,15,25], "labels": false, "domain": false, "title": null, "tickSize": 4}}, "text": {"field": "label"}}}
]},
{"width": 528, "height": 86, "resolve": {"axis": {"x": "independent", "y": "independent"}}, "layer": [
 {"data": {"name": "y2013"}, "transform": [{"fold": ["o","s","n","a"], "as": ["k","v"]}],
  "mark": {"type": "line", "strokeWidth": 1, "clip": true, "opacity": 0.9, "strokeJoin": "bevel"},
  "encoding": {
   "x": {"field": "t", "type": "temporal", "scale": {"type": "utc", "domain": [{"year":2013,"month":1,"date":1,"utc":true},{"year":2013,"month":12,"date":31,"utc":true}]},
    "axis": {"orient": "bottom", "labels": false, "title": null, "tickCount": {"interval": "month", "step": 1}, "tickSize": 9}},
   "y": {"field": "v", "type": "quantitative", "scale": {"domain": [0,30], "nice": false},
    "axis": {"orient": "left", "values": [0,10,20,30], "tickSize": 8, "labelPadding": 5, "title": "Concentration (μg/m³)", "titleFontSize": 12.5, "titlePadding": 17}},
   "color": {"field": "k", "type": "nominal", "scale": {"domain": ["o","s","n","a"], "range": ["#45b649","#e8232a","#2b3990","#f7a833"]}, "legend": null}
  }},
 {"data": {"values": [{"label": "(b) 2013"}]}, "mark": {"type": "text", "align": "left", "baseline": "middle", "fontSize": 16, "color": "#000"},
  "encoding": {"x": {"datum": {"year":2013,"month":12,"date":21,"utc":true}, "type": "temporal", "axis": {"orient": "bottom", "labels": false, "title": null, "domain": false, "tickCount": {"interval": "day", "step": 10}, "tickSize": 5, "tickOpacity": {"condition": {"test": "utcdate(datum.value)==31", "value": 0}, "value": 1}}},
   "y": {"datum": 28, "type": "quantitative", "axis": {"orient": "left", "values": [5,15,25], "labels": false, "domain": false, "title": null, "tickSize": 4}}, "text": {"field": "label"}}}
]},
{"width": 528, "height": 86, "resolve": {"axis": {"x": "independent", "y": "independent"}}, "layer": [
 {"data": {"name": "y2014"}, "transform": [{"fold": ["o","s","n","a"], "as": ["k","v"]}],
  "mark": {"type": "line", "strokeWidth": 1, "clip": true, "opacity": 0.9, "strokeJoin": "bevel"},
  "encoding": {
   "x": {"field": "t", "type": "temporal", "scale": {"type": "utc", "domain": [{"year":2014,"month":1,"date":1,"utc":true},{"year":2014,"month":12,"date":31,"utc":true}]},
    "axis": {"orient": "bottom", "format": "%-m/%-d", "labelOverlap": false, "labelFlush": false, "labelPadding": 5, "title": "Date", "titleFontSize": 13, "titlePadding": 9, "tickCount": {"interval": "month", "step": 1}, "tickSize": 9}},
   "y": {"field": "v", "type": "quantitative", "scale": {"domain": [0,30], "nice": false},
    "axis": {"orient": "left", "values": [0,10,20,30], "tickSize": 8, "labelPadding": 5, "title": null}},
   "color": {"field": "k", "type": "nominal", "scale": {"domain": ["o","s","n","a"], "range": ["#45b649","#e8232a","#2b3990","#f7a833"]},
    "legend": {"title": null, "orient": "none", "legendX": 17.5, "legendY": 16.5, "padding": 0, "clipHeight": 15, "labelExpr": "datum.label=='o' ? 'Organics' : datum.label=='s' ? 'Sulfate' : datum.label=='n' ? 'Nitrate' : 'Ammonium'", "symbolType": "M-4,0H4", "symbolSize": 49, "symbolOffset": 14, "symbolStrokeWidth": 4.5, "symbolOpacity": 1, "labelFontSize": 12, "labelColor": "#000", "labelOffset": 12.5, "rowPadding": 0}}
  }},
 {"data": {"values": [{"label": "(c) 2014"}]}, "mark": {"type": "text", "align": "left", "baseline": "middle", "fontSize": 16, "color": "#000"},
  "encoding": {"x": {"datum": {"year":2014,"month":12,"date":21,"utc":true}, "type": "temporal", "axis": {"orient": "bottom", "labels": false, "title": null, "domain": false, "tickCount": {"interval": "day", "step": 10}, "tickSize": 5, "tickOpacity": {"condition": {"test": "utcdate(datum.value)==31", "value": 0}, "value": 1}}},
   "y": {"datum": 28.2, "type": "quantitative", "axis": {"orient": "left", "values": [5,15,25], "labels": false, "domain": false, "title": null, "tickSize": 4}}, "text": {"field": "label"}}}
]}
]
}
